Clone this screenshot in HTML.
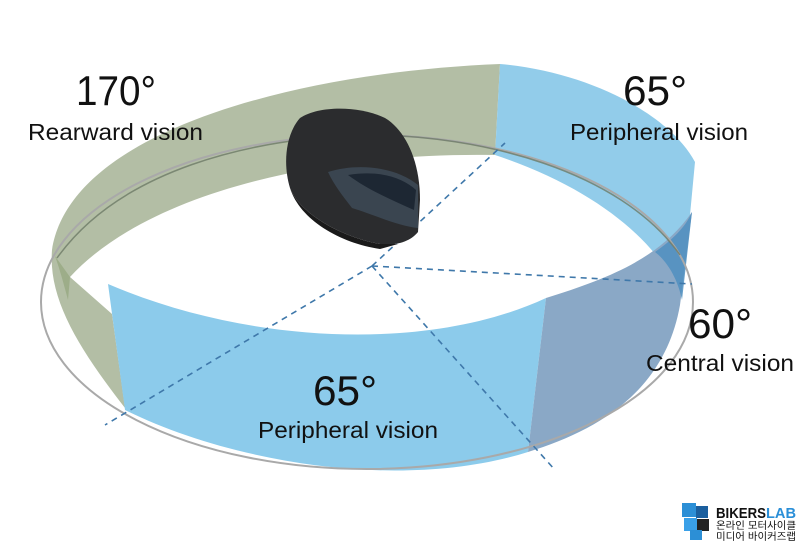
<!DOCTYPE html>
<html><head><meta charset="utf-8"><style>
html,body{margin:0;padding:0;background:#fff;width:800px;height:541px;overflow:hidden}
svg{display:block}
text{font-family:"Liberation Sans","Noto Sans CJK KR",sans-serif;fill:#111}
</style></head><body>
<svg width="800" height="541" viewBox="0 0 800 541" xmlns="http://www.w3.org/2000/svg">
<!-- green rear band -->
<path d="M52,250 C70,130 300,72 500,64 L495,155 C330,152 150,190 70,277 L112,314 L125,408 C80,350 48,300 52,250 Z" fill="#b3bea5"/>
<path d="M55,256 C60,270 64,285 68,300 L70,277 Z" fill="#97a982" opacity="0.8"/>
<!-- right back blue band -->
<path d="M500,64 C590,72 670,115 695,162 L690,215 L680,295 C660,245 600,190 495,155 Z" fill="#86c6e8" opacity="0.9"/>
<!-- front blue band -->
<path d="M108,284 C250,345 430,352 546,298 L528,452 C400,492 230,462 125,410 Z" fill="#8ccbeb"/>
<!-- dark central panel -->
<path d="M546,298 C610,278 660,258 692,212 L680,305 C665,390 600,430 528,452 Z" fill="#8aa8c6"/>
<path d="M655,252 C672,240 685,228 692,212 L682,300 C678,280 668,262 655,252 Z" fill="#4f8fc0" opacity="0.85"/>
<!-- ellipse -->
<ellipse cx="367" cy="302" rx="326" ry="167" fill="none" stroke="#a9a9a9" stroke-width="2"/>
<path d="M57,258 C120,170 250,138 367,135 C480,135 620,170 680,255" fill="none" stroke="#6d7a66" stroke-width="1.5" opacity="0.8"/>
<!-- dashed lines -->
<g stroke="#3f78aa" stroke-width="1.6" stroke-dasharray="6,5" fill="none">
<line x1="372" y1="266" x2="505" y2="143"/>
<line x1="372" y1="266" x2="105" y2="425"/>
<line x1="372" y1="266" x2="555" y2="470"/>
<line x1="372" y1="266" x2="692" y2="284"/>
</g>
<!-- helmet -->
<path d="M300,118 C320,105 360,106 385,118 C405,130 420,160 420,200 L418,232 C410,242 395,246 380,244 C345,238 300,215 290,188 C283,165 285,135 300,118 Z" fill="#2b2c2e"/>
<path d="M328,172 C360,162 398,168 418,185 L418,228 C398,226 372,214 352,208 C342,195 334,185 328,172 Z" fill="#3a4550"/>
<path d="M348,175 C378,170 402,177 416,190 L414,210 C392,200 368,190 348,175 Z" fill="#1d2733"/>
<path d="M290,188 C300,215 345,238 380,244 L398,244 L380,249 C340,243 300,220 290,188 Z" fill="#1a1a1a"/>
<!-- labels -->
<text x="76" y="105" font-size="42" textLength="80" lengthAdjust="spacingAndGlyphs">170°</text>
<text x="28" y="140" font-size="23" textLength="175" lengthAdjust="spacingAndGlyphs">Rearward vision</text>
<text x="623" y="105" font-size="42" textLength="64" lengthAdjust="spacingAndGlyphs">65°</text>
<text x="570" y="140" font-size="23" textLength="178" lengthAdjust="spacingAndGlyphs">Peripheral vision</text>
<text x="688" y="338" font-size="42" textLength="64" lengthAdjust="spacingAndGlyphs">60°</text>
<text x="646" y="371" font-size="23" textLength="148" lengthAdjust="spacingAndGlyphs">Central vision</text>
<text x="313" y="405" font-size="42" textLength="64" lengthAdjust="spacingAndGlyphs">65°</text>
<text x="258" y="438" font-size="23" textLength="180" lengthAdjust="spacingAndGlyphs">Peripheral vision</text>
<!-- logo -->
<g>
<rect x="682" y="503" width="14" height="14" fill="#2c8fd6"/>
<rect x="696" y="506" width="12" height="12" fill="#1b5f9e"/>
<rect x="684" y="518" width="13" height="13" fill="#3aa0e8"/>
<rect x="697" y="519" width="12" height="12" fill="#222"/>
<rect x="690" y="530" width="12" height="10" fill="#2c8fd6"/>
<text x="716" y="518" font-size="15" font-weight="bold" textLength="50" lengthAdjust="spacingAndGlyphs">BIKERS</text>
<text x="766" y="518" font-size="15" font-weight="bold" style="fill:#2a8fd8" textLength="30" lengthAdjust="spacingAndGlyphs">LAB</text>
<text x="716" y="529" font-size="10" textLength="80" lengthAdjust="spacingAndGlyphs">온라인 모터사이클</text>
<text x="716" y="540" font-size="10" textLength="80" lengthAdjust="spacingAndGlyphs">미디어 바이커즈랩</text>
</g>
</svg>
</body></html>
